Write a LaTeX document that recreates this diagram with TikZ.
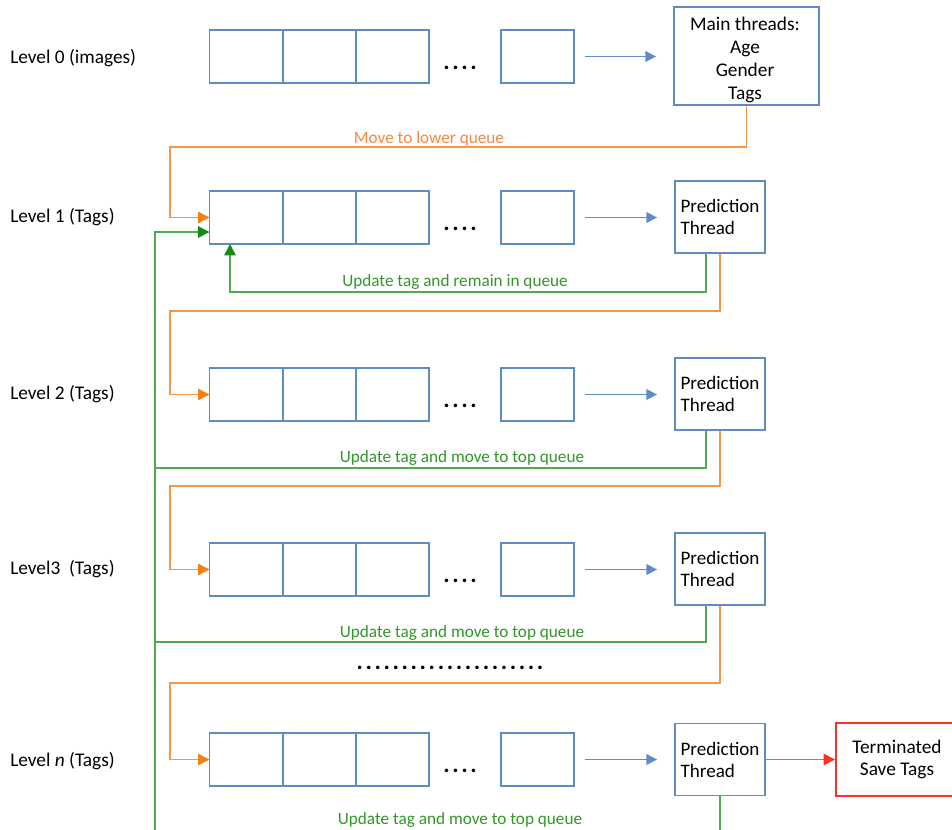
\documentclass[tikz,border=0pt]{standalone}
\usepackage{fontspec}
\setmainfont{Carlito}
\usetikzlibrary{arrows.meta}
\definecolor{qblue}{RGB}{95,140,198}
\definecolor{qorange}{RGB}{247,150,70}
\definecolor{qorangetip}{RGB}{245,128,20}
\definecolor{qgreen}{RGB}{80,170,80}
\definecolor{qgreentext}{RGB}{50,150,40}
\definecolor{qgreentip}{RGB}{20,140,20}
\definecolor{qred}{RGB}{250,50,40}
\newcommand\qdots[1]{\textbf{.}\foreach \i in {2,...,#1}{\kern1.95pt\textbf{.}}}
\begin{document}
\begin{tikzpicture}[x=0.75pt,y=-0.75pt,
  cell/.style={draw=qblue,line width=1.4pt,minimum width=54.75pt,minimum height=39.75pt,inner sep=0pt,outer sep=0pt},
  predbox/.style={draw=qblue,fill=white,line width=1.4pt,minimum width=67.5pt,minimum height=54pt,inner sep=0pt,align=left,font=\fontsize{14.3}{16.5}\selectfont},
  mainbox/.style={draw=qblue,fill=white,line width=1.4pt,minimum width=108.75pt,minimum height=73.5pt,inner sep=0pt},
  maintext/.style={inner sep=0pt,align=center,font=\fontsize{14.5}{17.25}\selectfont},
  termbox/.style={draw=qred,fill=white,line width=1.4pt,minimum width=91.5pt,minimum height=54.75pt,inner sep=0pt,align=center,font=\fontsize{14.5}{16.5}\selectfont},
  levellabel/.style={anchor=west,inner sep=0pt,font=\fontsize{14.5}{17}\selectfont},
  dotlabel/.style={anchor=base,inner sep=0pt,font=\fontsize{18}{20}\selectfont},
  olabel/.style={inner sep=0pt,text=qorange!90!red,font=\fontsize{12.9}{15}\selectfont},
  glabel/.style={inner sep=0pt,text=qgreentext,font=\fontsize{12.9}{15}\selectfont},
  barrow/.style={draw=qblue,line width=1.1pt,-{Triangle[length=8pt,width=8pt,color=qblue]},shorten <=8.25pt,shorten >=12.75pt},
  oarrow/.style={draw=qorange,line width=1.1pt,-{Triangle[length=8.5pt,width=8.5pt,color=qorangetip]}},
  garrow/.style={draw=qgreen,line width=1.1pt,-{Triangle[length=8.5pt,width=8.5pt,color=qgreentip]}},
  gline/.style={draw=qgreen,line width=1.1pt},
  rarrow/.style={draw=qred!80,line width=1.1pt,-{Triangle[length=8.5pt,width=8.5pt,color=qred]}}
]
\useasboundingbox (0,0) rectangle (952,829);

% level labels
\node[levellabel] (l0) at (10,58) {Level 0 (images)};
\node[levellabel] (l1) at (10,217.5) {Level 1 (Tags)};
\node[levellabel] (l2) at (10,394.5) {Level 2 (Tags)};
\node[levellabel] (l3) at (10,569.5) {Level3\ \ (Tags)};
\node[levellabel] (l4) at (10,761) {Level \textit{n} (Tags)};

% thread boxes
\node[mainbox] (p0) at (746.5,56) {};
\node[maintext] (p0t) at (745,59.5) {Main threads:\\Age\\Gender\\Tags};
\node[predbox] (p1) at (720,217) {Prediction\\Thread};
\node[predbox] (p2) at (720,394) {Prediction\\Thread};
\node[predbox] (p3) at (720,569) {Prediction\\Thread};
\node[predbox] (p4) at (720,759.5) {Prediction\\Thread};
\node[termbox] (t) at (897,759.5) {Terminated\\Save Tags};

% queues
\foreach \r/\y in {0/56.5,1/217.5,2/394.5,3/569.5,4/759.5}{
  \node[cell] (c\r-a) at (246,\y) {};
  \node[cell] (c\r-b) at (319.5,\y) {};
  \node[cell] (c\r-c) at (392.5,\y) {};
  \node[dotlabel] (d\r) at (460,\y+12.5) {\qdots{4}};
  \node[cell] (c\r-d) at (537.5,\y) {};
  \draw[barrow] (c\r-d.east) -- (c\r-d.east -| p\r.west);
}

\node[dotlabel] (ld) at (450,669) {\qdots{21}};

% orange: move to lower queue
\draw[oarrow] (p0.south) |- (170,147) |- (c1-a.west);
\draw[oarrow] (p1.south) |- (170,311) |- (c2-a.west);
\draw[oarrow] (p2.south) |- (170,486) |- (c3-a.west);
\draw[oarrow] (p3.south) |- (170,683) |- (c4-a.west);

% green: update tag
\draw[garrow] ([xshift=-10.5pt]p1.south) |- (230,292) -- (230,0 |- c1-a.south);
\draw[garrow] (155,845) |- ([yshift=-10.9pt]c1-a.west);
\draw[gline] ([xshift=-10.5pt]p2.south) |- (155,468);
\draw[gline] ([xshift=-10.5pt]p3.south) |- (155,642);
\draw[gline] (p4.south) -- (720,845);

% red
\draw[rarrow] (p4.east) -- (t.west);

% connector labels
\node[olabel] (tl0) at (429,139) {Move to lower queue};
\node[glabel] (tl1) at (455,282) {Update tag and remain in queue};
\node[glabel] (tl2) at (462,458) {Update tag and move to top queue};
\node[glabel] (tl3) at (462,633) {Update tag and move to top queue};
\node[glabel] (tl4) at (460,820) {Update tag and move to top queue};
\end{tikzpicture}
\end{document}
